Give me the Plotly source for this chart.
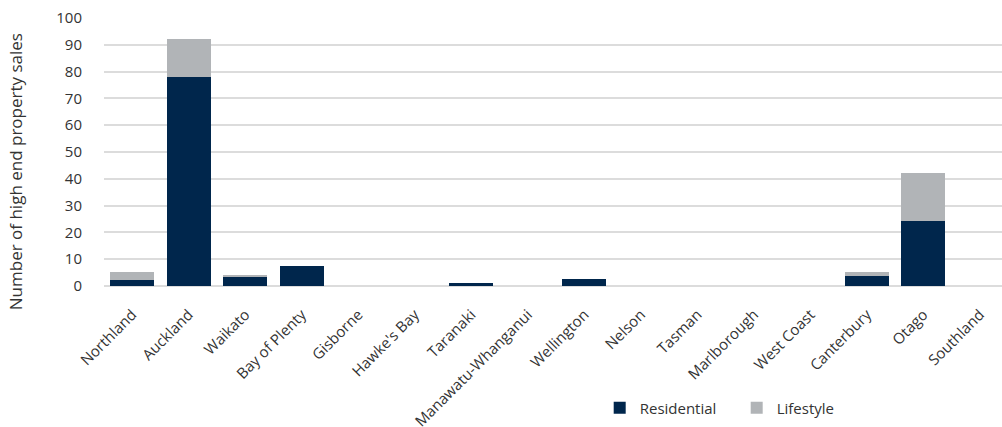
import plotly.graph_objects as go

regions = ["Northland", "Auckland", "Waikato", "Bay of Plenty", "Gisborne", "Hawke's Bay",
           "Taranaki", "Manawatu-Whanganui", "Wellington", "Nelson", "Tasman", "Marlborough",
           "West Coast", "Canterbury", "Otago", "Southland"]
residential = [2.1, 78, 3.5, 7.3, 0, 0, 1, 0, 2.5, 0, 0, 0, 0, 3.7, 24.2, 0]
lifestyle = [3, 14, 0.7, 0, 0, 0, 0, 0, 0, 0, 0, 0, 0, 1.4, 18, 0]
y_ticks = [0, 10, 20, 30, 40, 50, 60, 70, 80, 90, 100]

NAVY = "#00264c"
GREY = "#b1b4b7"
FONT = "Open Sans"
TXT = "#333333"

fig = go.Figure()
fig.add_trace(go.Bar(name="Residential", x=regions, y=residential, marker_color=NAVY,
                     marker_line_width=0))
fig.add_trace(go.Bar(name="Lifestyle", x=regions, y=lifestyle, marker_color=GREY,
                     marker_line_width=0))

fig.update_layout(
    barmode="stack",
    bargap=0.22,
    width=1002, height=427,
    margin=dict(l=104, r=0, t=18, b=141, autoexpand=False),
    paper_bgcolor="white", plot_bgcolor="white",
    font=dict(family=FONT, size=15, color=TXT),
    showlegend=True,
    legend=dict(orientation="h", x=0.552, xanchor="left", y=-0.455, yanchor="middle",
                font=dict(size=15, color=TXT), itemwidth=30, traceorder="normal",
                entrywidth=92, entrywidthmode="pixels",
                bgcolor="rgba(0,0,0,0)"),
    xaxis=dict(range=[-0.5, 15.39], tickangle=-45, showgrid=False, showline=False,
               ticks="", ticklabelstandoff=16, automargin=False,
               tickfont=dict(size=15, color=TXT), fixedrange=True),
    yaxis=dict(range=[0, 100], tickvals=y_ticks, showgrid=True, gridcolor="#dcdcdc",
               gridwidth=2, zeroline=True, zerolinecolor="#dcdcdc", zerolinewidth=2,
               showline=False, ticks="", ticklabelstandoff=21, automargin=False,
               tickfont=dict(size=15, color=TXT), fixedrange=True),
    annotations=[dict(text="Number of high end property sales", textangle=-90,
                      xref="paper", yref="paper", x=-0.099, y=0.425,
                      xanchor="center", yanchor="middle", showarrow=False,
                      font=dict(size=17, color=TXT))],
)

fig.write_html("out.html", config={"displayModeBar": False},
               post_script="document.body.style.margin='0px';")
